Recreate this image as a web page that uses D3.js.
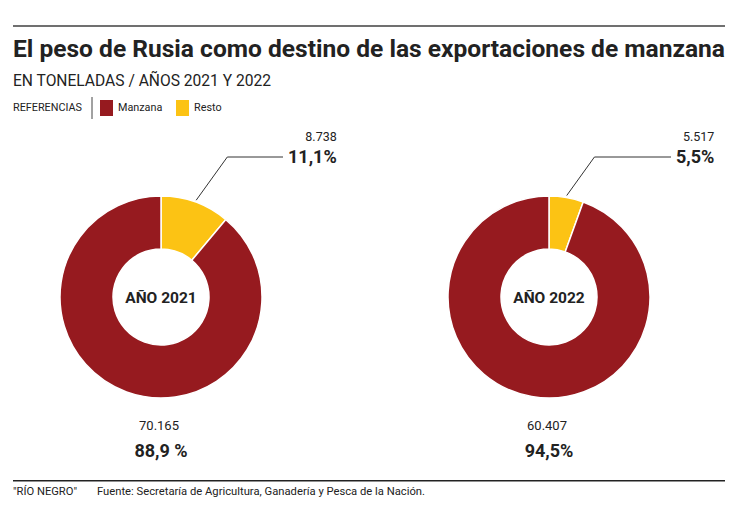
<!DOCTYPE html>
<html>
<head>
<meta charset="utf-8">
<script src="https://cdn.jsdelivr.net/npm/d3@7"></script>
<style>
	body { margin: 0; background: #fff; }
	svg { display: block; font-family: Roboto, 'Liberation Sans', sans-serif; }
	text { fill: #222; }
</style>
</head>
<body>
<div class="container"></div>
<script>
// datos
var years = ['2021', '2022'];
var categories = ['Resto', 'Manzana'];
var restoTons = [8738, 5517];
var manzanaTons = [70165, 60407];
var restoPct = [11.1, 5.5];
var manzanaPct = [88.9, 94.5];
var restoPctLabels = ['11,1%', '5,5%'];
var manzanaPctLabels = ['88,9 %', '94,5%'];

var width = 747,
	height = 525,
	radius = 101,
	innerRadius = 48,
	centerY = 297;

var esAR = d3.formatLocale({ decimal: ',', thousands: '.', grouping: [3], currency: ['$', ''] });
var fmtTons = esAR.format(',d');

var color = d3.scaleOrdinal()
	.domain(categories)
	.range(['#fcc314', '#961a1f']);

var x = d3.scalePoint()
	.domain(years)
	.range([161, 549]);

var svg = d3.select('.container')
	.append('svg')
	.attr('width', width)
	.attr('height', height);

// cabecera
svg.append('rect')
	.attr('x', 13)
	.attr('y', 25)
	.attr('width', 712)
	.attr('height', 2)
	.style('fill', '#707070');

svg.append('text')
	.attr('x', 13)
	.attr('y', 57)
	.attr('textLength', 712)
	.attr('lengthAdjust', 'spacingAndGlyphs')
	.style('font-size', '24.5px')
	.style('font-weight', 700)
	.text('El peso de Rusia como destino de las exportaciones de manzana');

svg.append('text')
	.attr('x', 13)
	.attr('y', 86)
	.attr('textLength', 258)
	.attr('lengthAdjust', 'spacingAndGlyphs')
	.style('font-size', '16px')
	.text('EN TONELADAS / AÑOS 2021 Y 2022');

// referencias
var legend = svg.append('g');

legend.append('text')
	.attr('x', 13)
	.attr('y', 111)
	.attr('textLength', 69)
	.attr('lengthAdjust', 'spacingAndGlyphs')
	.style('font-size', '10.5px')
	.text('REFERENCIAS');

legend.append('line')
	.attr('x1', 92)
	.attr('x2', 92)
	.attr('y1', 97)
	.attr('y2', 119)
	.style('stroke', '#444')
	.style('stroke-width', 1);

var legendItems = legend.selectAll('g.item')
	.data(['Manzana', 'Resto'])
	.enter().append('g')
	.classed('item', true)
	.attr('transform', function (d, i) { return 'translate(' + [100, 176][i] + ',0)'; });

legendItems.append('rect')
	.attr('y', 100)
	.attr('width', 13)
	.attr('height', 16)
	.style('fill', function (d) { return color(d); });

legendItems.append('text')
	.attr('x', 18)
	.attr('y', 111)
	.style('font-size', '10.8px')
	.text(function (d) { return d; });

// donas
var pie = d3.pie()
	.sort(null)
	.value(function (d) { return d.pct; });

var arc = d3.arc()
	.innerRadius(innerRadius)
	.outerRadius(radius);

var donuts = svg.selectAll('g.donut')
	.data(years.map(function (year, i) {
		return {
			year: year,
			slices: [
				{ key: categories[0], pct: restoPct[i], tons: restoTons[i], label: restoPctLabels[i] },
				{ key: categories[1], pct: manzanaPct[i], tons: manzanaTons[i], label: manzanaPctLabels[i] }
			]
		};
	}))
	.enter().append('g')
	.classed('donut', true)
	.attr('transform', function (d) { return 'translate(' + x(d.year) + ',' + centerY + ')'; });

donuts.selectAll('path')
	.data(function (d) { return pie(d.slices); })
	.enter().append('path')
	.attr('d', arc)
	.style('fill', function (d) { return color(d.data.key); })
	.style('stroke', '#fff')
	.style('stroke-width', 1.5);

donuts.append('text')
	.attr('text-anchor', 'middle')
	.attr('y', 6)
	.style('font-size', '15.5px')
	.style('font-weight', 700)
	.text(function (d) { return 'AÑO ' + d.year; });

// etiqueta del resto con línea guía
donuts.each(function (d) {
	var g = d3.select(this),
		s = pie(d.slices)[0],
		mid = (s.startAngle + s.endAngle) / 2,
		r = radius + 2,
		x0 = Math.sin(mid) * r,
		y0 = -Math.cos(mid) * r,
		elbowY = 157 - centerY,
		x1 = x0 + (y0 - elbowY) * 0.72,
		x2 = 122;

	g.append('path')
		.attr('d', d3.line()([[x0, y0], [x1, elbowY], [x2, elbowY]]))
		.style('fill', 'none')
		.style('stroke', '#333')
		.style('stroke-width', 1);

	var pct = g.append('text')
		.attr('x', x2 + 5)
		.attr('y', elbowY + 6)
		.style('font-size', '18px')
		.style('font-weight', 700)
		.text(s.data.label);

	var right = x2 + 5 + pct.node().getComputedTextLength();

	g.append('text')
		.attr('x', right)
		.attr('y', elbowY - 16)
		.attr('text-anchor', 'end')
		.style('font-size', '12.5px')
		.text(fmtTons(s.data.tons));
});

// etiqueta de manzana debajo
donuts.append('text')
	.attr('text-anchor', 'middle')
	.attr('x', -2)
	.attr('y', 430 - centerY)
	.style('font-size', '13px')
	.text(function (d) { return fmtTons(d.slices[1].tons); });

donuts.append('text')
	.attr('text-anchor', 'middle')
	.attr('y', 457 - centerY)
	.style('font-size', '18px')
	.style('font-weight', 700)
	.text(function (d) { return d.slices[1].label; });

// pie de página
svg.append('rect')
	.attr('x', 13)
	.attr('y', 480)
	.attr('width', 712)
	.attr('height', 1.5)
	.style('fill', '#222');

svg.append('text')
	.attr('x', 13)
	.attr('y', 495)
	.attr('textLength', 64)
	.attr('lengthAdjust', 'spacingAndGlyphs')
	.style('font-size', '10.5px')
	.text('"RÍO NEGRO"');

svg.append('text')
	.attr('x', 97)
	.attr('y', 495)
	.attr('textLength', 328)
	.attr('lengthAdjust', 'spacingAndGlyphs')
	.style('font-size', '10.5px')
	.text('Fuente: Secretaría de Agricultura, Ganadería y Pesca de la Nación.');
</script>
</body>
</html>
